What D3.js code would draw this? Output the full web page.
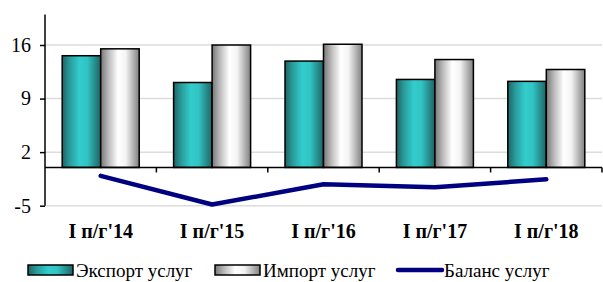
<!DOCTYPE html>
<html>
<head>
<meta charset="utf-8">
<script src="https://cdn.jsdelivr.net/npm/d3@7"></script>
<style>
  body { margin: 0; background: #fff; }
  svg { display: block; }
</style>
</head>
<body>
<svg id="chart" width="603" height="282"></svg>
<script>
// chart data
const categories = ["I п/г'14", "I п/г'15", "I п/г'16", "I п/г'17", "I п/г'18"];
const exportVals = [14.6, 11.1, 13.9, 11.5, 11.25];
const importVals = [15.5, 16.0, 16.1, 14.1, 12.8];
const balanceVals = [-1.1, -4.85, -2.2, -2.6, -1.55];
const yTicks = [-5, 2, 9, 16];
const seriesNames = ["Экспорт услуг", "Импорт услуг", "Баланс услуг"];

const serif = "Liberation Serif";
const svg = d3.select("#chart");
const plotL = 45, plotR = 602, plotT = 14.4, plotB = 205.7;

const x = d3.scaleBand().domain(categories).range([plotL, plotR]);
const y = d3.scaleLinear().domain([-5, 20]).range([plotB, plotT]);
const barW = 38.5;

// gradients for the bars
const defs = svg.append("defs");
function grad(id, stops) {
    let g = defs.append("linearGradient").attr("id", id)
        .attr("x1", "0%").attr("x2", "100%").attr("y1", "0%").attr("y2", "0%");
    stops.forEach(s => g.append("stop").attr("offset", s[0]).attr("stop-color", s[1]));
}
grad("gExp", [["0%", "#1f6464"], ["20%", "#2a9c9c"], ["45%", "#33cccc"], ["65%", "#31c4c4"], ["88%", "#268484"], ["100%", "#1f6464"]]);
grad("gImp", [["0%", "#777777"], ["20%", "#b9b9b9"], ["45%", "#ffffff"], ["65%", "#f4f4f4"], ["88%", "#a8a8a8"], ["100%", "#808080"]]);

// gridlines
svg.append("g")
    .selectAll("line")
    .data(yTicks)
    .enter()
    .append("line")
    .attr("x1", plotL).attr("x2", plotR)
    .attr("y1", d => y(d)).attr("y2", d => y(d))
    .attr("stroke", "#dcdcdc").attr("stroke-width", 1.5);

// bars
const bars = svg.append("g");
bars.selectAll(".exp")
    .data(exportVals)
    .enter()
    .append("rect")
    .attr("class", "exp")
    .attr("x", (d, i) => x(categories[i]) + x.bandwidth() / 2 - barW)
    .attr("y", d => y(d))
    .attr("width", barW)
    .attr("height", d => y(0) - y(d))
    .attr("fill", "url(#gExp)")
    .attr("stroke", "#000").attr("stroke-width", 1.5);

bars.selectAll(".imp")
    .data(importVals)
    .enter()
    .append("rect")
    .attr("class", "imp")
    .attr("x", (d, i) => x(categories[i]) + x.bandwidth() / 2)
    .attr("y", d => y(d))
    .attr("width", barW)
    .attr("height", d => y(0) - y(d))
    .attr("fill", "url(#gImp)")
    .attr("stroke", "#000").attr("stroke-width", 1.5);

// y axis
const yAxis = svg.append("g")
    .attr("transform", `translate(${plotL},0)`)
    .call(d3.axisLeft(y).tickValues(yTicks).tickSize(5).tickPadding(9).tickFormat(d => String(d)));
yAxis.select(".domain").attr("d", `M0,${plotT}V${plotB}`).attr("stroke", "#000").attr("stroke-width", 1.5);
yAxis.selectAll(".tick line").attr("stroke", "#000").attr("stroke-width", 1.5);
yAxis.selectAll("text")
    .attr("fill", "#000")
    .style("font-family", serif)
    .style("font-size", "20px");

// x axis at zero
const xAxis = svg.append("g")
    .attr("transform", `translate(0,${y(0)})`);
xAxis.append("line")
    .attr("x1", plotL).attr("x2", plotR)
    .attr("stroke", "#000").attr("stroke-width", 1.5);
xAxis.selectAll(".xt")
    .data(categories)
    .enter()
    .append("line")
    .attr("x1", d => x(d) + x.step())
    .attr("x2", d => x(d) + x.step())
    .attr("y1", 0).attr("y2", 5)
    .attr("stroke", "#000").attr("stroke-width", 1.5);

// category labels
svg.append("g")
    .selectAll("text")
    .data(categories)
    .enter()
    .append("text")
    .attr("x", d => x(d) + x.bandwidth() / 2)
    .attr("y", 238)
    .attr("text-anchor", "middle")
    .style("font-family", serif)
    .style("font-size", "20px")
    .style("font-weight", "bold")
    .text(d => d);

// balance line
const line = d3.line()
    .x((d, i) => x(categories[i]) + x.bandwidth() / 2)
    .y(d => y(d));
svg.append("path")
    .datum(balanceVals)
    .attr("d", line)
    .attr("fill", "none")
    .attr("stroke", "#000080")
    .attr("stroke-width", 4.5)
    .attr("stroke-linecap", "round")
    .attr("stroke-linejoin", "round");

// legend
const legend = svg.append("g");
const lx = [28, 215, 396];
const ly = 270;
legend.append("rect").attr("x", lx[0]).attr("y", ly - 5).attr("width", 45).attr("height", 10)
    .attr("fill", "url(#gExp)").attr("stroke", "#000").attr("stroke-width", 1.5);
legend.append("rect").attr("x", lx[1]).attr("y", ly - 5).attr("width", 45).attr("height", 10)
    .attr("fill", "url(#gImp)").attr("stroke", "#000").attr("stroke-width", 1.5);
legend.append("line").attr("x1", lx[2] + 2).attr("x2", lx[2] + 46).attr("y1", ly).attr("y2", ly)
    .attr("stroke", "#000080").attr("stroke-width", 4.5).attr("stroke-linecap", "round");
legend.selectAll("text")
    .data(seriesNames)
    .enter()
    .append("text")
    .attr("x", (d, i) => lx[i] + 48)
    .attr("y", ly + 6.5)
    .style("font-family", serif)
    .style("font-size", "19px")
    .text(d => d);
</script>
</body>
</html>
